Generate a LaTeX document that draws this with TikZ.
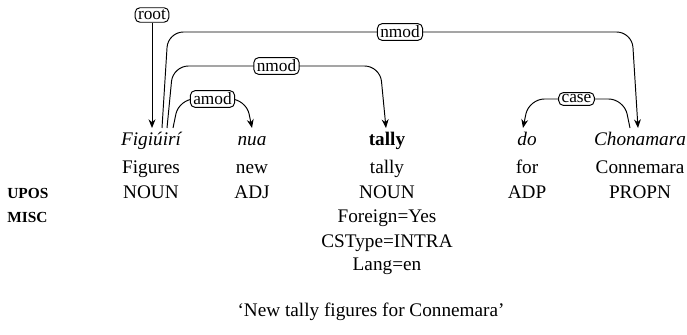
\documentclass[tikz,border=0pt]{standalone}
\usepackage{fontspec}
\setmainfont{Liberation Serif}
\usetikzlibrary{calc,arrows.meta}
\begin{document}
\begin{tikzpicture}[x=0.52pt,y=-0.52pt,
  wd/.style={anchor=base,inner sep=0pt,font=\fontsize{10}{12}\selectfont},
  rowlab/.style={anchor=base west,inner sep=0pt,font=\fontsize{8}{10}\selectfont\bfseries},
  lab/.style={draw,rounded corners=2.5pt,fill=white,inner xsep=1.5pt,inner ysep=1.2pt,font=\fontsize{9}{10}\selectfont,line width=0.5pt},
  dep/.style={draw,line width=0.5pt,rounded corners=8pt,-{Stealth[length=4.5pt,width=3.6pt]}}]
\useasboundingbox (0,0) rectangle (687,335);
% words
\node[wd] (w1) at (151,146) {\itshape Figiúirí};
\node[wd] (w2) at (252,146) {\itshape nua};
\node[wd] (w3) at (387,146) {\bfseries tally};
\node[wd] (w4) at (527,146) {\itshape do};
\node[wd] (w5) at (640,146) {\itshape Chonamara};
% glosses
\node[wd] (g1) at (151,174) {Figures};
\node[wd] (g2) at (252,174) {new};
\node[wd] (g3) at (387,174) {tally};
\node[wd] (g4) at (527,174) {for};
\node[wd] (g5) at (640,174) {Connemara};
% upos
\node[rowlab] (upos) at (7,198) {UPOS};
\node[wd] (u1) at (151,198) {NOUN};
\node[wd] (u2) at (252,198) {ADJ};
\node[wd] (u3) at (387,198) {NOUN};
\node[wd] (u4) at (527,198) {ADP};
\node[wd] (u5) at (640,198) {PROPN};
% misc
\node[rowlab] (misc) at (7,223) {MISC};
\node[wd] (m1) at (387,223) {Foreign=Yes};
\node[wd] (m2) at (387,247) {CSType=INTRA};
\node[wd] (m3) at (387,271) {Lang=en};
% caption
\node[wd] (cap) at (371,316) {‘New tally figures for Connemara’};
% edges
\node[lab] (root) at (152,15) {root};
\draw[dep] (root.south) -- ($(w1.base)+(1,-18)$);
\draw[dep] ($(w1.base)+(11,-18)$) -- ++(6,-96)
  -- node[lab] (l1) {nmod} ($(w5.base)+(-8,-114)$) -- ($(w5.base)+(-2,-18)$);
\draw[dep] ($(w1.base)+(16,-18)$) -- ++(6,-62)
  -- node[lab] (l2) {nmod} ($(w3.base)+(-7,-80)$) -- ($(w3.base)+(-1,-18)$);
\draw[dep] ($(w1.base)+(22,-18)$) -- ++(6,-29)
  -- node[lab] (l3) {amod} ($(w2.base)+(-6,-47)$) -- ($(w2.base)+(0,-18)$);
\draw[dep] ($(w5.base)+(-10,-18)$) -- ++(-6,-29)
  -- node[lab] (l4) {case} ($(w4.base)+(2,-47)$) -- ($(w4.base)+(-4,-18)$);
\end{tikzpicture}
\end{document}
